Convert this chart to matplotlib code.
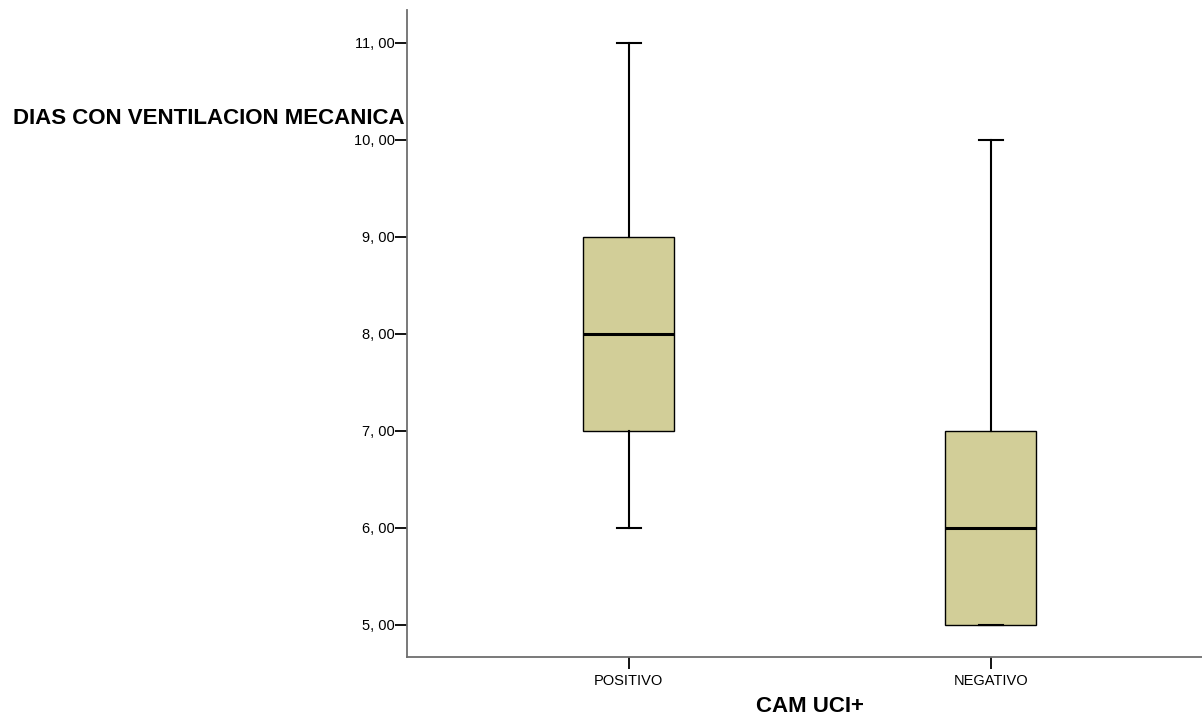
import matplotlib
matplotlib.use("Agg")
import matplotlib.pyplot as plt
from matplotlib.ticker import FuncFormatter

plt.rcParams['font.family'] = ['Liberation Sans', 'DejaVu Sans']

# Box plot summary values (days on mechanical ventilation by CAM-ICU result)
groups = ["POSITIVO", "NEGATIVO"]
whisker_low = [6.0, 5.0]
q1 = [7.0, 5.0]
median = [8.0, 6.0]
q3 = [9.0, 7.0]
whisker_high = [11.0, 10.0]

stats = []
for i, g in enumerate(groups):
    stats.append({
        "label": g,
        "whislo": whisker_low[i],
        "q1": q1[i],
        "med": median[i],
        "q3": q3[i],
        "whishi": whisker_high[i],
        "fliers": [],
    })

fig = plt.figure(figsize=(12.02, 7.17), dpi=100)
ax = fig.add_axes([407 / 1202, 60 / 717, 1 - 407 / 1202, 647 / 717])

ax.bxp(stats, positions=[1, 2], widths=0.251, capwidths=0.066,
       patch_artist=True,
       boxprops=dict(facecolor="#d2ce98", edgecolor="black", linewidth=1.0),
       medianprops=dict(color="black", linewidth=2.2),
       whiskerprops=dict(color="black", linewidth=1.5),
       capprops=dict(color="black", linewidth=1.5))

ax.set_xlim(0.388, 2.584)
ax.set_ylim(4.67, 11.34)
ax.set_yticks([5, 6, 7, 8, 9, 10, 11])
ax.yaxis.set_major_formatter(FuncFormatter(lambda v, p: f"{int(v)}, 00"))
ax.set_xticks([1, 2])
ax.set_xticklabels(groups)

for side in ["top", "right"]:
    ax.spines[side].set_visible(False)
for side in ["left", "bottom"]:
    ax.spines[side].set_color("#6e6e6e")
    ax.spines[side].set_linewidth(1.3)

ax.tick_params(axis="both", direction="out", length=8.5, width=1.3, color="black",
               labelsize=10.5)
ax.tick_params(axis="y", pad=0.5)
ax.tick_params(axis="x", pad=4)

fig.text(405 / 1202, 1 - 118 / 717, "DIAS CON VENTILACION MECANICA", ha="right",
         va="center", fontsize=16, fontweight="bold")
fig.text(810 / 1202, 1 - 706 / 717, "CAM UCI+", ha="center", va="center",
         fontsize=16, fontweight="bold")

fig.savefig("out.png", dpi=100, facecolor="white")
